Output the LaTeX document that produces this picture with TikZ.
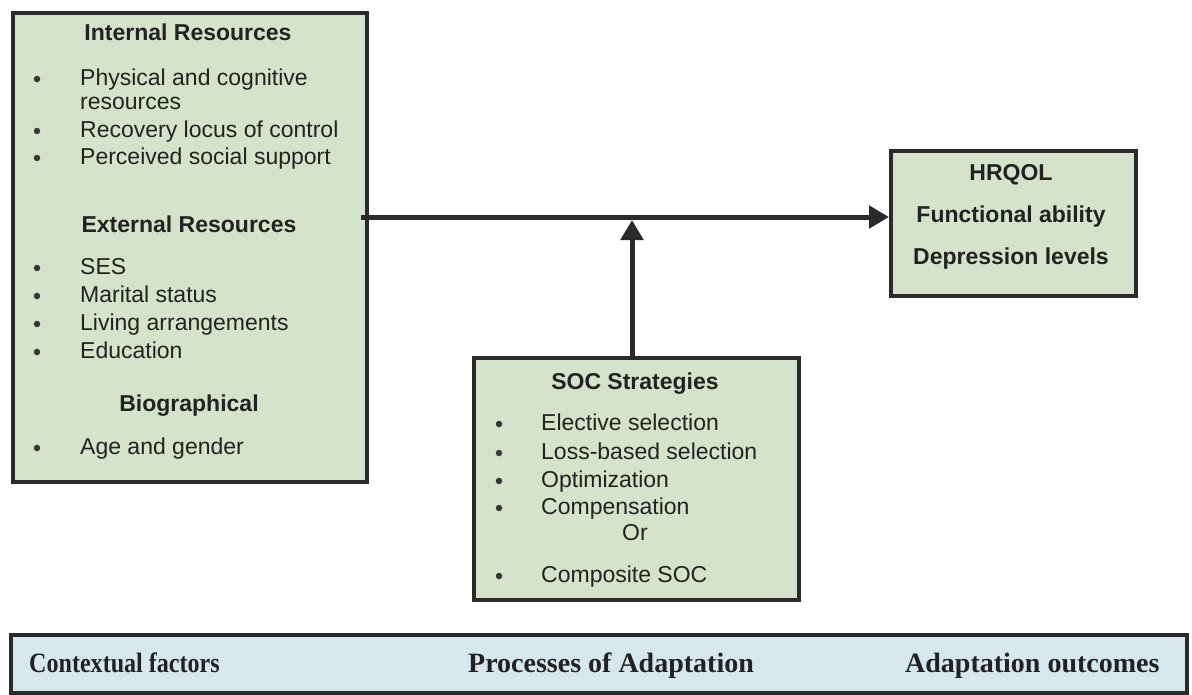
\documentclass[tikz,border=0pt]{standalone}
\usepackage{fontspec}
\setmainfont{Liberation Sans}
\newfontfamily\bandfont{Liberation Serif}
\usetikzlibrary{arrows.meta}
\definecolor{boxgreen}{RGB}{212,227,201}
\definecolor{bandblue}{RGB}{214,232,237}
\definecolor{edge}{RGB}{42,42,42}
\definecolor{ink}{RGB}{34,34,34}
\begin{document}
\begin{tikzpicture}[x=1pt,y=-1pt,
  panel/.style={draw=edge,line width=4pt,fill=boxgreen,inner sep=0pt,anchor=north west},
  item/.style={anchor=mid west,inner sep=0pt,yshift=-5pt,font=\fontsize{23}{26}\selectfont,text=ink},
  head/.style={anchor=mid,inner sep=0pt,yshift=-5pt,font=\fontsize{23}{26}\selectfont\bfseries,text=ink},
  dot/.style={circle,fill=ink!90,inner sep=0pt,minimum size=6.5pt,yshift=-1pt},
  bandtext/.style={anchor=mid west,inner sep=0pt,yshift=-5pt,font=\fontsize{28}{32}\selectfont\bandfont\bfseries,text=ink},
  link/.style={draw=edge,line width=5pt,-{Triangle[length=20pt,width=22pt]}}]
\useasboundingbox (0,0) rectangle (1192,694);

% boxes
\node[panel,minimum width=354pt,minimum height=469pt] (lbox) at (11,11) {};
\node[panel,minimum width=245pt,minimum height=145pt] (hr) at (889,149) {};
\node[panel,minimum width=325pt,minimum height=242pt] (soc) at (472,356) {};
\node[panel,fill=bandblue,minimum width=1176pt,minimum height=58pt] (band) at (9,633) {};

% contextual factors
\node[head] (h1) at (188,33) {Internal Resources};
\node[dot] (b1) at (37,78) {};
\node[item] (t1) at (80,78) {Physical and cognitive};
\node[item] (t1b) at (80,102) {resources};
\node[dot] (b2) at (37,130) {};
\node[item] (t2) at (80,130) {Recovery locus of control};
\node[dot] (b3) at (37,157) {};
\node[item] (t3) at (80,157) {Perceived social support};

\node[head] (h2) at (189,225) {External Resources};
\node[dot] (b4) at (37,267) {};
\node[item] (t4) at (80,267) {SES};
\node[dot] (b5) at (37,295) {};
\node[item] (t5) at (80,295) {Marital status};
\node[dot] (b6) at (37,323) {};
\node[item] (t6) at (80,323) {Living arrangements};
\node[dot] (b7) at (37,351) {};
\node[item] (t7) at (80,351) {Education};

\node[head] (h3) at (189,404) {Biographical};
\node[dot] (b8) at (37,447) {};
\node[item] (t8) at (80,447) {Age and gender};

% outcomes
\node[head] (o1) at (1011,173) {HRQOL};
\node[head] (o2) at (1011,215) {Functional ability};
\node[head] (o3) at (1011,257) {Depression levels};

% SOC strategies
\node[head] (s0) at (635,382) {SOC Strategies};
\node[dot] (sb1) at (499,423) {};
\node[item] (s1) at (541,423) {Elective selection};
\node[dot] (sb2) at (499,452) {};
\node[item] (s2) at (541,452) {Loss-based selection};
\node[dot] (sb3) at (499,480) {};
\node[item] (s3) at (541,480) {Optimization};
\node[dot] (sb4) at (499,507) {};
\node[item] (s4) at (541,507) {Compensation};
\node[head,font=\fontsize{23}{26}\selectfont] (sor) at (635,533) {Or};
\node[dot] (sb5) at (499,575) {};
\node[item] (s5) at (541,575) {Composite SOC};

% bottom band labels
\node[bandtext] (c1) at (29,665) {\scalebox{0.86}[1]{Contextual factors}};
\node[bandtext] (c2) at (468,665) {Processes of Adaptation};
\node[bandtext] (c3) at (905,665) {Adaptation outcomes};

% connectors
\coordinate (axis) at (632,217);
\coordinate (meet) at (632,220);
\draw[link] ([xshift=-8pt]lbox.east |- axis) -- (hr.west |- axis);
\draw[link] (meet |- soc.north) -- (meet);
\end{tikzpicture}
\end{document}
